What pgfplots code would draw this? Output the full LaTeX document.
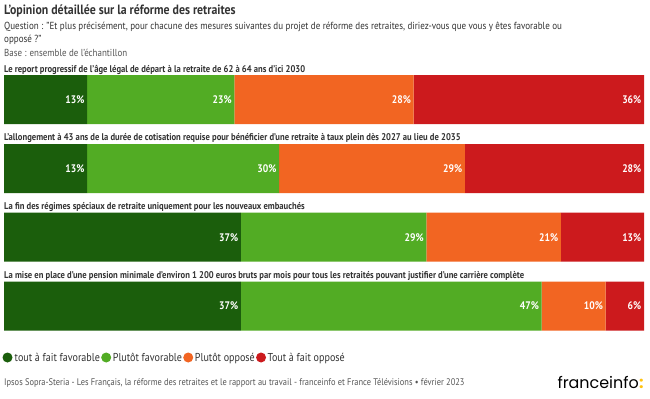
\documentclass[border=0pt]{standalone}
\usepackage{pgfplots}
\pgfplotsset{compat=1.18}
\usepackage{fontspec}
\setmainfont{PT Sans}[FakeStretch=0.88]
\newfontfamily\logofont{Poppins}
\definecolor{c1}{HTML}{1B5E0C}
\definecolor{c2}{HTML}{52AC24}
\definecolor{c3}{HTML}{F26522}
\definecolor{c4}{HTML}{CC1A1D}
\definecolor{txt}{HTML}{333333}
\definecolor{src}{HTML}{555555}
\definecolor{logoy}{HTML}{FFC20E}
\pgfplotsset{base/.style={at={(0,0)}, anchor=south west, scale only axis,
  width=650bp, height=398bp,
  xmin=-0.625, xmax=100.9375, ymin=0, ymax=398, y dir=reverse,
  axis lines=none, clip=false}}
\begin{document}
\begin{tikzpicture}[x=1bp,y=1bp]
\fill[white] (0,0) rectangle (650,398);
\begin{axis}[base, xbar stacked, bar width=49]
\addplot[fill=c1, draw=none] coordinates {(13,99.7) (13,168.5) (37,237.2) (37,306)};
\addplot[fill=c2, draw=none] coordinates {(23,99.7) (30,168.5) (29,237.2) (47,306)};
\addplot[fill=c3, draw=none] coordinates {(28,99.7) (29,168.5) (21,237.2) (10,306)};
\addplot[fill=c4, draw=none] coordinates {(36,99.7) (28,168.5) (13,237.2) (6,306)};
\end{axis}
\begin{axis}[base]
\addplot[only marks, mark=none, point meta=explicit symbolic,
  nodes near coords={\bfseries\pgfplotspointmeta\%},
  every node near coord/.append style={anchor=east, text=white, inner sep=0pt,
    font=\bfseries\fontsize{11}{12}\selectfont, xshift=-2.5bp}]
coordinates {
 (13,99.7)[13] (36,99.7)[23] (64,99.7)[28] (100,99.7)[36]
 (13,168.5)[13] (43,168.5)[30] (72,168.5)[29] (100,168.5)[28]
 (37,237.2)[37] (66,237.2)[29] (87,237.2)[21] (100,237.2)[13]
 (37,306)[37] (84,306)[47] (94,306)[10] (100,306)[6]
};
\end{axis}
% titles
\node[anchor=base west, inner sep=0, text=txt, font=\bfseries\fontsize{13.5}{15}\selectfont] at (4,398-14) {L’opinion détaillée sur la réforme des retraites};
\node[anchor=base west, inner sep=0, text=txt, font=\fontsize{10.3}{12}\selectfont] at (4,398-29) {Question : "Et plus précisément, pour chacune des mesures suivantes du projet de réforme des retraites, diriez-vous que vous y êtes favorable ou};
\node[anchor=base west, inner sep=0, text=txt, font=\fontsize{10.3}{12}\selectfont] at (4,398-42) {opposé ?"};
\node[anchor=base west, inner sep=0, text=src, font=\fontsize{10.2}{11}\selectfont] at (4,398-56) {Base : ensemble de l'échantillon};
% bar labels
\begin{scope}[every node/.style={anchor=base west, inner sep=0, text=txt, font=\bfseries\fontsize{9.8}{11}\selectfont}]
\node at (4,398-72) {Le report progressif de l'âge légal de départ à la retraite de 62 à 64 ans d'ici 2030};
\node at (4,398-140.5) {L'allongement à 43 ans de la durée de cotisation requise pour bénéficier d'une retraite à taux plein dès 2027 au lieu de 2035};
\node at (4,398-209) {La fin des régimes spéciaux de retraite uniquement pour les nouveaux embauchés};
\node at (4,398-278) {La mise en place d'une pension minimale d'environ 1 200 euros bruts par mois pour tous les retraités pouvant justifier d'une carrière complète};
\end{scope}
% legend
\begin{scope}[every node/.style={anchor=base west, inner sep=0, text=txt, font=\fontsize{11.5}{13}\selectfont}]
\fill[c1] (7.5,398-357.5) circle (5);
\node (t1) at (14.5,398-361.5) {tout à fait favorable};
\fill[c2] ([xshift=6bp,yshift=4bp]t1.base east) circle (5);
\node (t2) at ([xshift=12.5bp]t1.base east) {Plutôt favorable};
\fill[c3] ([xshift=6bp,yshift=4bp]t2.base east) circle (5);
\node (t3) at ([xshift=12.5bp]t2.base east) {Plutôt opposé};
\fill[c4] ([xshift=6bp,yshift=4bp]t3.base east) circle (5);
\node (t4) at ([xshift=12.5bp]t3.base east) {Tout à fait opposé};
\end{scope}
% source
\node[anchor=base west, inner sep=0, text=src, font=\fontsize{9.6}{11}\selectfont] at (4,398-385) {Ipsos Sopra-Steria - Les Français, la réforme des retraites et le rapport au travail - franceinfo et France Télévisions • février 2023};
\node[anchor=base east, inner sep=0, text=black, font=\logofont\fontsize{16}{18}\selectfont] (logo) at (639,398-388) {franceinfo};
\node[anchor=base west, inner sep=0, text=logoy, font=\logofont\bfseries\fontsize{16}{18}\selectfont] at (logo.base east) {:};
\end{tikzpicture}
\end{document}
